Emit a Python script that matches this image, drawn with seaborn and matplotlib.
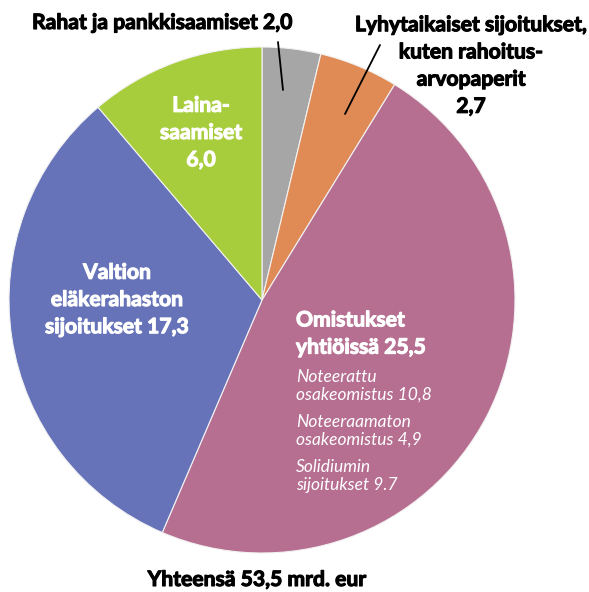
import matplotlib
matplotlib.use("Agg")
import matplotlib.pyplot as plt
import matplotlib.patheffects as pe
import seaborn as sns

# data: Valtion omistukset, mrd. eur
segments = ["Rahat ja pankkisaamiset", "Lyhytaikaiset sijoitukset", "Omistukset yhtiöissä",
            "Valtion eläkerahaston sijoitukset", "Lainasaamiset"]
values = [2.0, 2.7, 25.5, 17.3, 6.0]
colors = ["#a6a6a6", "#e08a55", "#b66f91", "#6673b8", "#a8cd3c"]

sns.set_style("white")
plt.rcParams["font.family"] = ["Lato", "DejaVu Sans"]

fig = plt.figure(figsize=(5.89, 5.92), dpi=100)
# pie centre at (262, 300) px, radius 253 px
ax = fig.add_axes([9 / 589, 39 / 592, 506 / 589, 506 / 592])
ax.pie(values, colors=colors, startangle=90, counterclock=False, radius=1,
       wedgeprops=dict(edgecolor="#f2f2f2", linewidth=0.8))
ax.set_xlim(-1, 1)
ax.set_ylim(-1, 1)
ax.set_aspect("equal")
ax.axis("off")


def px(x, y):  # pixel position -> data coords
    return (x - 262) / 253, (300 - y) / 253


def label(x, y, s, color="black", ha="center"):
    # heavy bold text, a thin stroke thickens Lato Bold a little
    ax.text(*px(x, y), s, ha=ha, va="center", color=color, fontsize=15.2,
            fontweight="bold", linespacing=1.45, clip_on=False,
            path_effects=[pe.withStroke(linewidth=0.8, foreground=color)])


# outside labels
label(162, 23, "Rahat ja pankkisaamiset 2,0")
ax.plot(*zip(px(278, 42), px(283, 90)), color="black", lw=1.3, clip_on=False)
label(471, 66, "Lyhytaikaiset sijoitukset,\nkuten rahoitus-\narvopaperit\n2,7")
ax.plot(*zip(px(380, 45), px(345, 114)), color="black", lw=1.3, clip_on=False)

# labels inside the slices
label(201, 133, "Laina-\nsaamiset\n6,0", color="white")
label(117, 300, "Valtion\neläkerahaston\nsijoitukset 17,3", color="white")
label(296, 334, "Omistukset\nyhtiöissä 25,5", color="white", ha="left")
sub = ["Noteerattu\nosakeomistus 10,8", "Noteeraamaton\nosakeomistus 4,9", "Solidiumin\nsijoitukset 9.7"]
for i, s in enumerate(sub):
    ax.text(*px(296, 386 + 45 * i), s, ha="left", va="center", color="white",
            fontsize=12.5, fontstyle="italic", linespacing=1.15)

label(257, 580, "Yhteensä 53,5 mrd. eur")

fig.savefig("out.png", dpi=100)
